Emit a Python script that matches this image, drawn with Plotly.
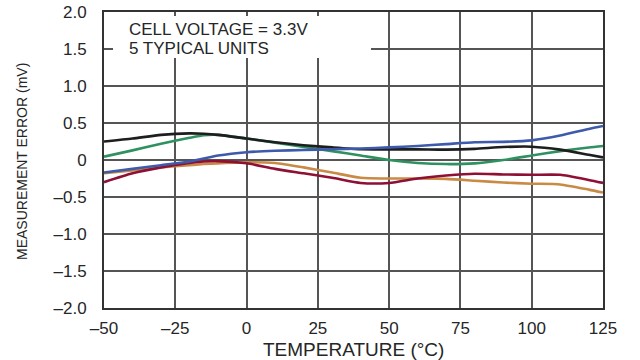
import plotly.graph_objects as go

temp = [-50, -40, -30, -20, -15, -10, 0, 10, 20, 30, 40, 50, 60, 70, 80, 90, 100, 110, 120, 125]

black = [0.25, 0.29, 0.34, 0.36, 0.355, 0.34, 0.29, 0.24, 0.20, 0.17, 0.145, 0.144, 0.144, 0.14, 0.15, 0.175, 0.18, 0.14, 0.07, 0.035]
green = [0.045, 0.13, 0.22, 0.30, 0.335, 0.34, 0.29, 0.235, 0.175, 0.12, 0.06, 0.0, -0.04, -0.055, -0.045, 0.0, 0.06, 0.12, 0.17, 0.19]
blue = [-0.17, -0.12, -0.07, -0.02, 0.02, 0.06, 0.105, 0.125, 0.135, 0.145, 0.155, 0.17, 0.19, 0.215, 0.24, 0.245, 0.265, 0.33, 0.42, 0.46]
orange = [-0.18, -0.14, -0.10, -0.07, -0.055, -0.045, -0.03, -0.04, -0.10, -0.17, -0.24, -0.25, -0.25, -0.255, -0.28, -0.305, -0.32, -0.33, -0.40, -0.44]
red = [-0.30, -0.18, -0.10, -0.04, -0.02, -0.015, -0.045, -0.12, -0.18, -0.24, -0.31, -0.31, -0.25, -0.21, -0.185, -0.195, -0.20, -0.20, -0.27, -0.31]

x_ticks = [-50, -25, 0, 25, 50, 75, 100, 125]
x_ticktext = ["–50", "–25", "0", "25", "50", "75", "100", "125"]
y_ticks = [-2.0, -1.5, -1.0, -0.5, 0, 0.5, 1.0, 1.5, 2.0]
y_ticktext = ["–2.0", "–1.5", "–1.0", "–0.5", "0", "0.5", "1.0", "1.5", "2.0"]

series = [
    ("orange", orange, "#c98a46"),
    ("red", red, "#8e1034"),
    ("green", green, "#2f9160"),
    ("black", black, "#1e1e1e"),
    ("blue", blue, "#3d5aab"),
]

FONT = "Liberation Sans, Arial, Helvetica, sans-serif"
TXT = "#262626"

fig = go.Figure()
for name, vals, col in series:
    fig.add_trace(go.Scatter(x=temp, y=vals, mode="lines", name=name,
                             line=dict(color=col, width=2.6, shape="spline", smoothing=0.6),
                             hoverinfo="skip"))

fig.update_layout(
    width=640, height=360,
    margin=dict(l=104, r=37, t=12, b=52),
    paper_bgcolor="white", plot_bgcolor="white",
    showlegend=False,
    font=dict(family=FONT, color=TXT, size=17),
    xaxis=dict(range=[-50, 125], tickvals=x_ticks, ticktext=x_ticktext,
               showgrid=True, gridcolor="#555555", gridwidth=1.5,
               showline=True, linecolor="#333333", linewidth=2, mirror=True,
               zeroline=False, ticks="outside", ticklen=4, tickcolor="rgba(0,0,0,0)",
               automargin=False,
               tickfont=dict(size=17, family=FONT, color=TXT)),
    yaxis=dict(range=[-2.0, 2.0], tickvals=y_ticks, ticktext=y_ticktext,
               showgrid=True, gridcolor="#555555", gridwidth=1.5,
               showline=True, linecolor="#333333", linewidth=2, mirror=True,
               zeroline=False, ticks="outside", ticklen=12, tickcolor="rgba(0,0,0,0)",
               automargin=False,
               tickfont=dict(size=17, family=FONT, color=TXT)),
    annotations=[
        # white backing box that hides the grid behind the note
        dict(text=" ", xref="paper", yref="paper",
             x=9 / 499, y=(308 - 16) / 296, xanchor="left", yanchor="top",
             width=258, height=42, bgcolor="white", borderpad=0, borderwidth=0,
             showarrow=False),
        dict(text="CELL VOLTAGE = 3.3V", xref="paper", yref="paper",
             x=0.046, y=(308 - 29.5) / 296, xanchor="left", yanchor="middle",
             showarrow=False, font=dict(size=17, family=FONT, color=TXT)),
        dict(text="5 TYPICAL UNITS", xref="paper", yref="paper",
             x=0.046, y=(308 - 48.5) / 296, xanchor="left", yanchor="middle",
             showarrow=False, font=dict(size=17, family=FONT, color=TXT)),
        dict(text="TEMPERATURE (°C)", xref="paper", yref="paper",
             x=0.501, y=(308 - 349) / 296, xanchor="center", yanchor="middle",
             showarrow=False, font=dict(size=19, family=FONT, color=TXT)),
        dict(text="MEASUREMENT ERROR (mV)", xref="paper", yref="paper",
             x=(22 - 104) / 499, y=(308 - 162) / 296, xanchor="center", yanchor="middle",
             textangle=-90, showarrow=False,
             font=dict(size=14, family="Liberation Sans Narrow, Arial Narrow, Liberation Sans, Arial, sans-serif", color=TXT)),
    ],
)

fig.write_html("out.html", config={"displayModeBar": False},
               post_script="document.body.style.margin='0';")
